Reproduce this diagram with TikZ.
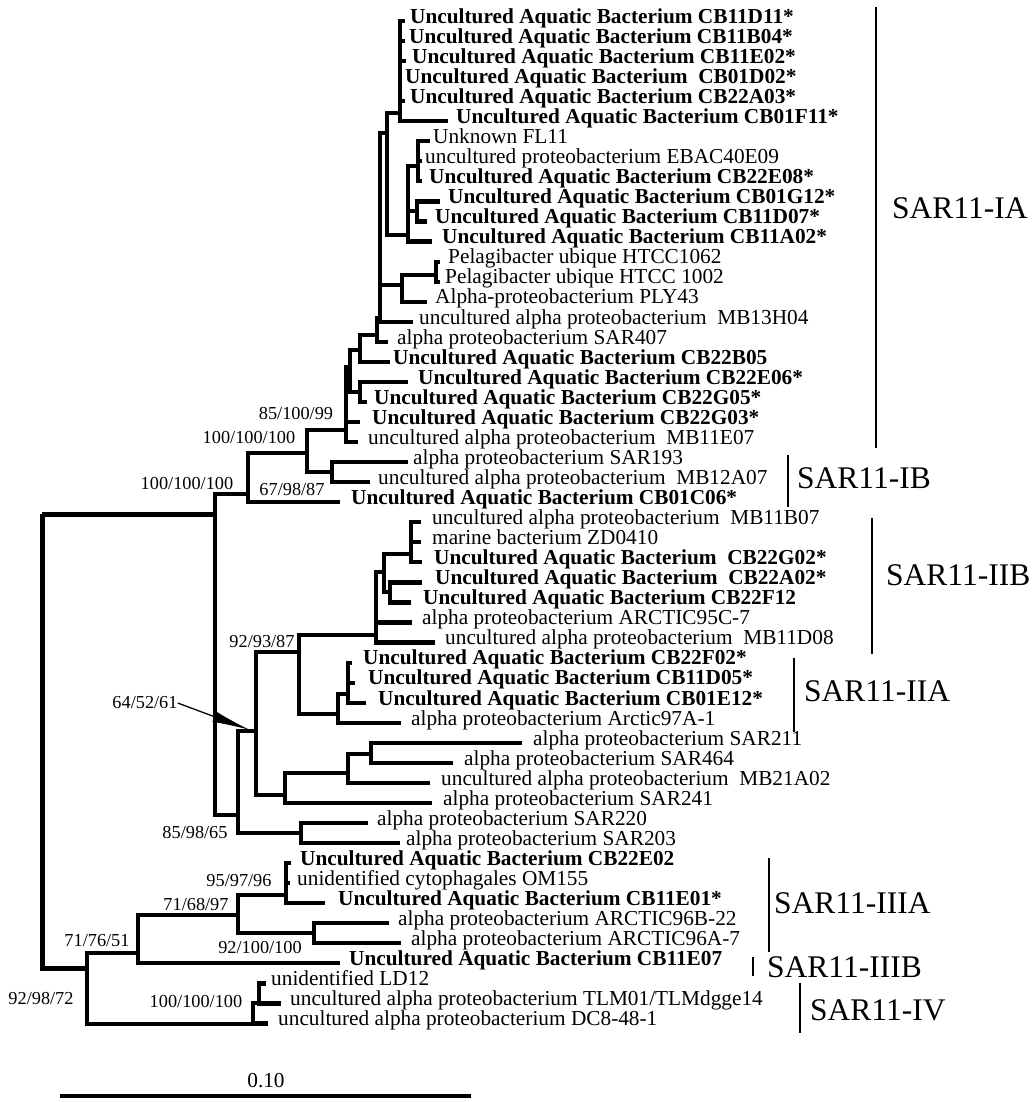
\documentclass[tikz,border=0pt]{standalone}
\usepackage{fontspec}
\setmainfont{Liberation Serif}
\usetikzlibrary{arrows.meta}
\newcommand{\phleaf}[7]{%
  \coordinate (#1t) at (#3,{21+20.05*#2});
  \node[#6] (#1) at (#4,{21+20.05*#2}) {#7};
  \draw[br] (#5) |- (#1t);
}
\begin{document}
\begin{tikzpicture}[x=1pt,y=-1pt,
  br/.style={line width=4.2pt},
  rootbr/.style={line width=5pt},
  lfr/.style={anchor=mid west,inner sep=0pt,font=\fontsize{21.3}{22}\selectfont},
  lfb/.style={anchor=mid west,inner sep=0pt,font=\fontsize{21.3}{22}\selectfont\bfseries},
  bs/.style={inner sep=0pt,font=\fontsize{18.3}{19}\selectfont},
  grp/.style={anchor=west,inner sep=0pt,font=\fontsize{31.5}{32}\selectfont},
  gbar/.style={line width=2.6pt}]
\useasboundingbox (0,0) rectangle (1032,1102);

% ---------- internal nodes ----------
\coordinate (root) at (42,514);
\coordinate (Nl) at (215,514);
\coordinate (Nk) at (248,494);
\coordinate (Ni) at (307,453);
\coordinate (Nj) at (332,472);
\coordinate (Nh) at (346,430);
\coordinate (Ng) at (350,367);
\coordinate (Nf) at (360,392);
\coordinate (Ne) at (360,350);
\coordinate (Na) at (377,335);
\coordinate (Nb) at (380,318);
\coordinate (Nd) at (402,285);
\coordinate (HT) at (436,275);
\coordinate (Nc) at (387,133);
\coordinate (T1) at (400,113);
\coordinate (T2) at (408,235);
\coordinate (T2a) at (418,166);
\coordinate (T2b) at (417,211);
\coordinate (Nt) at (238,815);
\coordinate (Nu) at (256,731);
\coordinate (Nv) at (301,833);
\coordinate (Nw) at (299,652);
\coordinate (Nx) at (285,795);
\coordinate (Nx1) at (348,773);
\coordinate (Nx2) at (371,754);
\coordinate (Ny) at (376,635);
\coordinate (Ny1) at (384,572);
\coordinate (Ny2) at (411,554);
\coordinate (Ny3) at (390,592);
\coordinate (Nz) at (338,714);
\coordinate (Nz1) at (348,694);
\coordinate (Nm) at (87,968);
\coordinate (Np) at (138,953);
\coordinate (Nq) at (238,915);
\coordinate (Nr) at (286,895);
\coordinate (Ns) at (314,933);
\coordinate (Nn) at (253,1024);
\coordinate (No) at (259,1003);

% ---------- internal branches ----------
\draw[rootbr] (root) |- (Nl);
\draw[rootbr] (root) |- (Nm);
\draw[br] (Nl) |- (Nk);
\draw[br] (Nl) |- (Nt);
\draw[br] (Nk) |- (Ni);
\draw[br] (Ni) |- (Nh);
\draw[br] (Ni) |- (Nj);
\draw[br] (Nh) |- (Ng);
\draw[br] (Ng) |- (Ne);
\draw[br] (Ng) |- (Nf);
\draw[br] (Ne) |- (Na);
\draw[br] (Na) |- (Nb);
\draw[br] (Nb) |- (Nc);
\draw[br] (Nb) |- (Nd);
\draw[br] (Nd) |- (HT);
\draw[br] (Nc) |- (T1);
\draw[br] (Nc) |- (T2);
\draw[br] (T2) |- (T2a);
\draw[br] (T2) |- (T2b);
\draw[br] (Nt) |- (Nu);
\draw[br] (Nt) |- (Nv);
\draw[br] (Nu) |- (Nw);
\draw[br] (Nu) |- (Nx);
\draw[br] (Nw) |- (Ny);
\draw[br] (Nw) |- (Nz);
\draw[br] (Ny) |- (Ny1);
\draw[br] (Ny1) |- (Ny2);
\draw[br] (Ny1) |- (Ny3);
\draw[br] (Nz) |- (Nz1);
\draw[br] (Nx) |- (Nx1);
\draw[br] (Nx1) |- (Nx2);
\draw[br] (Nm) |- (Np);
\draw[br] (Nm) |- (Nn);
\draw[br] (Np) |- (Nq);
\draw[br] (Nq) |- (Nr);
\draw[br] (Nq) |- (Ns);
\draw[br] (Nn) |- (No);

% ---------- leaves ----------
\phleaf{L0}{0}{405}{410}{T1}{lfb}{Uncultured Aquatic Bacterium CB11D11*}
\phleaf{L1}{1}{405}{409}{T1}{lfb}{Uncultured Aquatic Bacterium CB11B04*}
\phleaf{L2}{2}{406}{412}{T1}{lfb}{Uncultured Aquatic Bacterium CB11E02*}
\phleaf{L3}{3}{402}{405}{T1}{lfb}{Uncultured Aquatic Bacterium\ \ CB01D02*}
\phleaf{L4}{4}{405}{410}{T1}{lfb}{Uncultured Aquatic Bacterium CB22A03*}
\phleaf{L5}{5}{448}{456}{T1}{lfb}{Uncultured Aquatic Bacterium CB01F11*}
\phleaf{L6}{6}{430}{433}{T2a}{lfr}{Unknown FL11}
\phleaf{L7}{7}{422}{425}{T2a}{lfr}{uncultured proteobacterium EBAC40E09}
\phleaf{L8}{8}{422}{429}{T2a}{lfb}{Uncultured Aquatic Bacterium CB22E08*}
\phleaf{L9}{9}{440}{448}{T2b}{lfb}{Uncultured Aquatic Bacterium CB01G12*}
\phleaf{L10}{10}{427}{435}{T2b}{lfb}{Uncultured Aquatic Bacterium CB11D07*}
\phleaf{L11}{11}{432}{442}{T2}{lfb}{Uncultured Aquatic Bacterium CB11A02*}
\phleaf{L12}{12}{440}{448}{HT}{lfr}{Pelagibacter ubique HTCC1062}
\phleaf{L13}{13}{440}{445}{HT}{lfr}{Pelagibacter ubique HTCC 1002}
\phleaf{L14}{14}{427}{435}{Nd}{lfr}{Alpha-proteobacterium PLY43}
\phleaf{L15}{15}{413}{419}{Nb}{lfr}{uncultured alpha proteobacterium\ \ MB13H04}
\phleaf{L16}{16}{388}{397}{Na}{lfr}{alpha proteobacterium SAR407}
\phleaf{L17}{17}{390}{393}{Ne}{lfb}{Uncultured Aquatic Bacterium CB22B05}
\phleaf{L18}{18}{408}{418}{Nf}{lfb}{Uncultured Aquatic Bacterium CB22E06*}
\phleaf{L19}{19}{367}{374}{Nf}{lfb}{Uncultured Aquatic Bacterium CB22G05*}
\phleaf{L20}{20}{360}{372}{Nh}{lfb}{Uncultured Aquatic Bacterium CB22G03*}
\phleaf{L21}{21}{358}{368}{Nh}{lfr}{uncultured alpha proteobacterium\ \ MB11E07}
\phleaf{L22}{22}{408}{413}{Nj}{lfr}{alpha proteobacterium SAR193}
\phleaf{L23}{23}{370}{378}{Nj}{lfr}{uncultured alpha proteobacterium\ \ MB12A07}
\phleaf{L24}{24}{340}{351}{Nk}{lfb}{Uncultured Aquatic Bacterium CB01C06*}
\phleaf{L25}{25}{421}{432}{Ny2}{lfr}{uncultured alpha proteobacterium\ \ MB11B07}
\phleaf{L26}{26}{421}{432}{Ny2}{lfr}{marine bacterium ZD0410}
\phleaf{L27}{27}{422}{434}{Ny2}{lfb}{Uncultured Aquatic Bacterium\ \ CB22G02*}
\phleaf{L28}{28}{422}{435}{Ny3}{lfb}{Uncultured Aquatic Bacterium\ \ CB22A02*}
\phleaf{L29}{29}{411}{423}{Ny3}{lfb}{Uncultured Aquatic Bacterium CB22F12}
\phleaf{L30}{30}{412}{422}{Ny}{lfr}{alpha proteobacterium ARCTIC95C-7}
\phleaf{L31}{31}{435}{445}{Ny}{lfr}{uncultured alpha proteobacterium\ \ MB11D08}
\phleaf{L32}{32}{352}{363}{Nz1}{lfb}{Uncultured Aquatic Bacterium CB22F02*}
\phleaf{L33}{33}{355}{368}{Nz1}{lfb}{Uncultured Aquatic Bacterium CB11D05*}
\phleaf{L34}{34}{366}{378}{Nz1}{lfb}{Uncultured Aquatic Bacterium CB01E12*}
\phleaf{L35}{35}{401}{411}{Nz}{lfr}{alpha proteobacterium Arctic97A-1}
\phleaf{L36}{36}{522}{533}{Nx2}{lfr}{alpha proteobacterium SAR211}
\phleaf{L37}{37}{453}{464}{Nx2}{lfr}{alpha proteobacterium SAR464}
\phleaf{L38}{38}{430}{441}{Nx1}{lfr}{uncultured alpha proteobacterium\ \ MB21A02}
\phleaf{L39}{39}{432}{443}{Nx}{lfr}{alpha proteobacterium SAR241}
\phleaf{L40}{40}{368}{377}{Nv}{lfr}{alpha proteobacterium SAR220}
\phleaf{L41}{41}{400}{406}{Nv}{lfr}{alpha proteobacterium SAR203}
\phleaf{L42}{42}{291}{300}{Nr}{lfb}{Uncultured Aquatic Bacterium CB22E02}
\phleaf{L43}{43}{290}{297}{Nr}{lfr}{unidentified cytophagales OM155}
\phleaf{L44}{44}{325}{338}{Nr}{lfb}{Uncultured Aquatic Bacterium CB11E01*}
\phleaf{L45}{45}{389}{398}{Ns}{lfr}{alpha proteobacterium ARCTIC96B-22}
\phleaf{L46}{46}{401}{411}{Ns}{lfr}{alpha proteobacterium ARCTIC96A-7}
\phleaf{L47}{47}{340}{349}{Np}{lfb}{Uncultured Aquatic Bacterium CB11E07}
\phleaf{L48}{48}{266}{271}{No}{lfr}{unidentified LD12}
\phleaf{L49}{49}{281}{290}{No}{lfr}{uncultured alpha proteobacterium TLM01/TLMdgge14}
\phleaf{L50}{50}{268}{278}{Nn}{lfr}{uncultured alpha proteobacterium DC8-48-1}

% ---------- bootstrap labels ----------
\node[bs] (b1) at (296,414) {85/100/99};
\node[bs] (b2) at (249,438) {100/100/100};
\node[bs] (b3) at (187,484) {100/100/100};
\node[bs] (b4) at (292,489) {67/98/87};
\node[bs] (b5) at (262,641) {92/93/87};
\node[bs] (b6) at (145,703) {64/52/61};
\node[bs] (b7) at (195,832) {85/98/65};
\node[bs] (b8) at (239,881) {95/97/96};
\node[bs] (b9) at (196,904) {71/68/97};
\node[bs] (b10) at (260,947) {92/100/100};
\node[bs] (b11) at (97,941) {71/76/51};
\node[bs] (b12) at (41,998) {92/98/72};
\node[bs] (b13) at (196,1001) {100/100/100};
\coordinate (arrtip) at (250,730);
\draw[line width=1.3pt,-{Latex[length=38pt,width=11pt]}] (b6.east) -- (arrtip);

% ---------- group labels ----------
\draw[gbar] (876,7) -- (876,448);
\node[grp] (g1) at (892,208) {SAR11-IA};
\draw[gbar] (788,455) -- (788,507);
\node[grp] (g2) at (797,478) {SAR11-IB};
\draw[gbar] (872,518) -- (872,654);
\node[grp] (g3) at (886,575) {SAR11-IIB};
\draw[gbar] (794,658) -- (794,732);
\node[grp] (g4) at (804,691) {SAR11-IIA};
\draw[gbar] (769,858) -- (769,952);
\node[grp] (g5) at (774,903) {SAR11-IIIA};
\draw[gbar] (753,957) -- (753,976);
\node[grp] (g6) at (767,967) {SAR11-IIIB};
\draw[gbar] (800,983) -- (800,1033);
\node[grp] (g7) at (810,1010) {SAR11-IV};

% ---------- scale bar ----------
\coordinate (sb1) at (60,1096);
\coordinate (sb2) at (471,1096);
\draw[line width=4pt] (sb1) -- (sb2);
\node[inner sep=0pt,font=\fontsize{21.3}{22}\selectfont] (sbl) at (266,1081) {0.10};
\end{tikzpicture}
\end{document}
